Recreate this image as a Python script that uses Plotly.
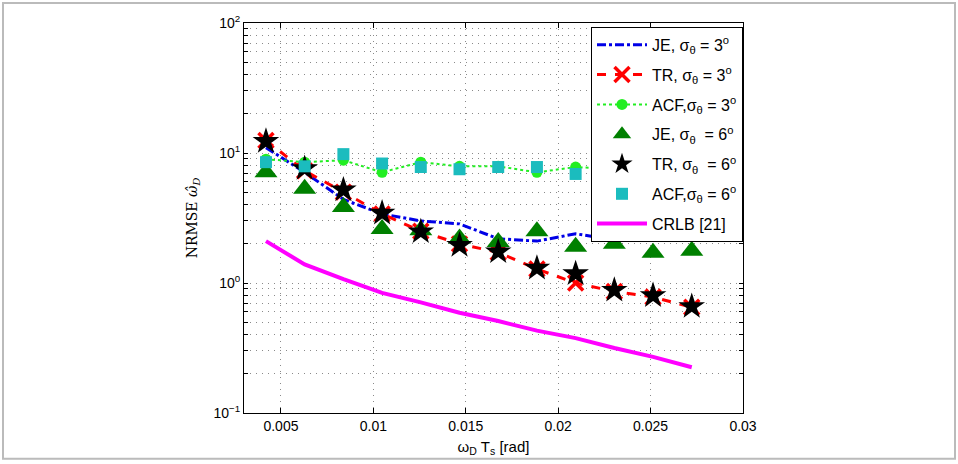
import plotly.graph_objects as go

# ---- data ----
x_vals = [0.004189, 0.006283, 0.008378, 0.010472, 0.012566, 0.014661,
          0.016755, 0.018850, 0.020944, 0.023038, 0.025133, 0.027227]

je_3 = [11.0, 7.1, 4.4, 3.4, 3.0, 2.85, 2.19, 2.1, 2.39, 2.15, 2.3, 2.4]
tr_3 = [12.5, 7.3, 5.0, 3.4, 2.5, 2.0, 1.72, 1.28, 1.0, 0.86, 0.78, 0.65]
acf_3 = [8.96, 8.5, 8.8, 7.1, 8.5, 7.9, 7.9, 7.1, 7.8, 7.5, 7.4, 7.3]
je_6 = [7.1, 5.3, 3.85, 2.6, 2.55, 2.2, 2.07, 2.5, 1.9, 2.0, 1.71, 1.77]
tr_6 = [12.3, 7.6, 5.2, 3.45, 2.48, 1.95, 1.74, 1.3, 1.18, 0.88, 0.8, 0.66]
acf_6 = [8.5, 7.9, 9.8, 8.3, 7.8, 7.5, 7.8, 7.8, 6.9, 7.2, 7.0, 7.3]
crlb = [2.1, 1.39, 1.07, 0.84, 0.71, 0.59, 0.51, 0.43, 0.377, 0.316, 0.27, 0.225]

x_ticks = [0.005, 0.01, 0.015, 0.02, 0.025, 0.03]
x_ticktext = ["0.005", "0.01", "0.015", "0.02", "0.025", "0.03"]
y_decades = [0.1, 1, 10, 100]
y_decade_text = ["10<sup>−1</sup>", "10<sup>0</sup>", "10<sup>1</sup>", "10<sup>2</sup>"]
y_minor_digits = [2, 3, 4, 5, 6, 7, 8, 9]

names = [
    "JE, σ<sub>θ</sub> = 3<sup>o</sup>",
    "TR, σ<sub>θ</sub> = 3<sup>o</sup>",
    "ACF,σ<sub>θ</sub> = 3<sup>o</sup>",
    "JE, σ<sub>θ</sub>  = 6<sup>o</sup>",
    "TR, σ<sub>θ</sub>  = 6<sup>o</sup>",
    "ACF,σ<sub>θ</sub> = 6<sup>o</sup>",
    "CRLB [21]",
]

# y tick values: decades labelled, intermediate digits unlabelled (grid only)
y_tickvals, y_ticktext = [], []
for d, lab in zip(y_decades, y_decade_text):
    y_tickvals.append(d)
    y_ticktext.append(lab)
    if d < 100:
        for m in y_minor_digits:
            y_tickvals.append(d * m)
            y_ticktext.append("")

W, H = 958, 464
L, R, T, B = 244, 743, 23, 415

fig = go.Figure()
fig.add_trace(go.Scatter(x=x_vals, y=je_3, mode="lines", name=names[0], legendgroup="g0",
                         line=dict(color="#0000e6", width=3, dash="dashdot")))
fig.add_trace(go.Scatter(x=x_vals, y=tr_3, mode="lines+markers", name=names[1], legendgroup="g1",
                         line=dict(color="#ff0000", width=3, dash="dash"),
                         marker=dict(symbol="x-thin-open", size=15,
                                     line=dict(color="#ff0000", width=3.5))))
fig.add_trace(go.Scatter(x=x_vals, y=acf_3, mode="lines+markers", name=names[2], legendgroup="g2",
                         line=dict(color="#22ee22", width=2, dash="dot"),
                         marker=dict(symbol="circle", size=11, color="#22ee22")))
fig.add_trace(go.Scatter(x=x_vals, y=je_6, mode="markers", name=names[3], legendgroup="g3",
                         marker=dict(symbol="triangle-up", size=20, color="#008000")))
fig.add_trace(go.Scatter(x=x_vals, y=tr_6, mode="markers", name=names[4], legendgroup="g4",
                         marker=dict(symbol="star", size=20, color="#000000")))
fig.add_trace(go.Scatter(x=x_vals, y=acf_6, mode="markers", name=names[5], legendgroup="g5",
                         marker=dict(symbol="square", size=12, color="#1bbcbe")))
fig.add_trace(go.Scatter(x=x_vals, y=crlb, mode="lines", name=names[6], legendgroup="g6",
                         line=dict(color="#ff00ff", width=4)))

grid = dict(gridcolor="#8a8a8a", griddash="1px,5px", gridwidth=1)

fig.update_layout(
    width=W, height=H,
    margin=dict(l=L, r=W - R, t=T, b=H - B),
    paper_bgcolor="white", plot_bgcolor="white",
    font=dict(family="Liberation Sans, Arial, sans-serif", size=14, color="black"),
    showlegend=True,
    legend=dict(x=1.0, y=0.99, xanchor="right", yanchor="top",
                bgcolor="white", bordercolor="black", borderwidth=1,
                font=dict(size=16), tracegroupgap=6, itemwidth=50,
                traceorder="grouped"),
    xaxis=dict(range=[0.003, 0.03], tickvals=x_ticks, ticktext=x_ticktext,
               showline=True, linecolor="black", linewidth=1, mirror="ticks",
               ticks="inside", ticklen=5, tickcolor="black", zeroline=False,
               showgrid=True, **grid,
               title=dict(text="ω<sub>D</sub> T<sub>s</sub> [rad]", standoff=8,
                          font=dict(size=15))),
    yaxis=dict(type="log", range=[-1, 2], tickvals=y_tickvals, ticktext=y_ticktext,
               showline=True, linecolor="black", linewidth=1, mirror="ticks",
               ticks="inside", ticklen=4, tickcolor="black", zeroline=False,
               showgrid=True, **grid,
               title=dict(text="NRMSE <i>ω̂</i><sub><i>D</i></sub>", standoff=12,
                          font=dict(family="DejaVu Serif, Liberation Serif, serif", size=14))),
)

# outer light frame of the figure
fig.add_shape(type="rect", xref="paper", yref="paper",
              x0=(3 - L) / (R - L), x1=(955 - L) / (R - L),
              y0=1 - (461 - T) / (B - T), y1=1 - (3 - T) / (B - T),
              line=dict(color="#bbbbbb", width=2), layer="below")

fig.write_html("out.html")
